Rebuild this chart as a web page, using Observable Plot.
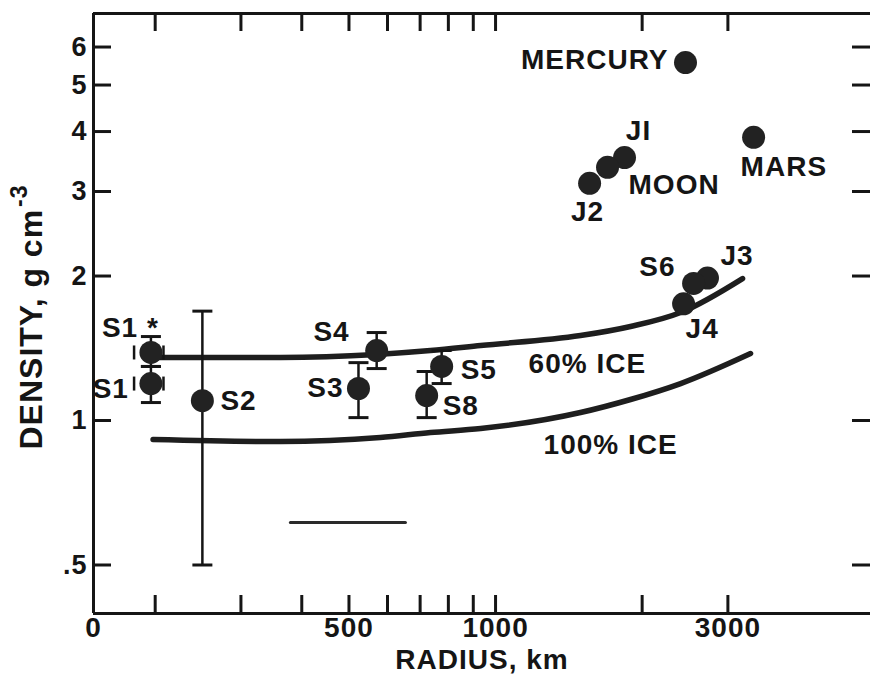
<!DOCTYPE html>
<html><head><meta charset="utf-8">
<script src="https://cdn.jsdelivr.net/npm/d3@7"></script>
<script src="https://cdn.jsdelivr.net/npm/@observablehq/plot@0.6"></script>
<style>html,body{margin:0;padding:0;background:#fff;overflow:hidden}</style>
</head><body><div id="chart"></div>
<script>
// ---- data ----
const bodyNames   = ["MERCURY","JI","MOON","J2","MARS","J3","S6","J4"];
const bodyRadius  = [2455, 1840, 1698, 1560, 3388, 2724, 2551, 2433];
const bodyDensity = [5.57, 3.53, 3.37, 3.12, 3.89, 1.98, 1.93, 1.75];

const satNames       = ["S1 *","S1","S2","S3","S4","S5","S8"];
const satRadius      = [196, 196, 250, 523, 570, 775, 722];
const satDensity     = [1.386, 1.194, 1.10, 1.166, 1.399, 1.296, 1.127];
const satDensityLow  = [1.296, 1.09, 0.50, 1.014, 1.283, 1.194, 1.014];
const satDensityHigh = [1.496, 1.296, 1.69, 1.32, 1.525, 1.399, 1.265];
const satRadiusLow   = [181, 181, null, null, null, null, null];
const satRadiusHigh  = [208, 208, null, null, null, null, null];

const ice60Radius   = [198, 362, 570, 735, 932, 1494, 1893, 2399, 3215];
const ice60Density  = [1.353, 1.353, 1.373, 1.399, 1.433, 1.503, 1.570, 1.679, 1.976];
const ice100Radius  = [198, 362, 580, 735, 932, 1494, 1893, 2399, 3339];
const ice100Density = [0.913, 0.904, 0.922, 0.944, 0.962, 1.039, 1.106, 1.194, 1.379];

const barRadius  = [379, 653];
const barDensity = [0.613, 0.613];

const annotText    = ["60% ICE", "100% ICE"];
const annotRadius  = [1169, 1255];
const annotDensity = [1.314, 0.887];

const xDomain = [149.4, 5888];
const yDomain = [0.3962, 7.047];
const xTicks = [200, 300, 400, 500, 600, 700, 800, 900, 1000, 2000, 3000];
const xLabelValues = [xDomain[0], 500, 1000, 3000];
const xLabelText = ["0", "500", "1000", "3000"];
const yTicks = [0.5, 1, 2, 3, 4, 5, 6];
const yTickLabels = [".5", "1", "2", "3", "4", "5", "6"];

// ---- tables ----
const bodies = bodyNames.map((name, i) => ({name, radius: bodyRadius[i], density: bodyDensity[i]}));
const sats = satNames.map((name, i) => ({name, radius: satRadius[i], density: satDensity[i],
  lo: satDensityLow[i], hi: satDensityHigh[i], rlo: satRadiusLow[i], rhi: satRadiusHigh[i]}));
const satsR = sats.filter(d => d.rlo != null);
const points = bodies.concat(sats);
const ice60 = ice60Radius.map((r, i) => ({radius: r, density: ice60Density[i]}));
const ice100 = ice100Radius.map((r, i) => ({radius: r, density: ice100Density[i]}));
const bar = barRadius.map((r, i) => ({radius: r, density: barDensity[i]}));
const annots = annotText.map((t, i) => ({text: t, radius: annotRadius[i], density: annotDensity[i]}));

const fontFamily = "'Liberation Sans', Arial, Helvetica, sans-serif";
const ink = "#151515";
const FS = 28;
const capH = {draw(ctx, size) { const r = Math.sqrt(size / Math.PI); ctx.moveTo(-r, 0); ctx.lineTo(r, 0); }};
const capV = {draw(ctx, size) { const r = Math.sqrt(size / Math.PI); ctx.moveTo(0, -r); ctx.lineTo(0, r); }};

const W = 870, H = 687, mT = 13, mL = 93, mR = 0, mB = 74;
const innerW = W - mL - mR, innerH = H - mT - mB;
const TL = 18;

function lab(name, dx, dy, anchor) {
  return Plot.text(points.filter(p => p.name === name), {
    x: "radius", y: "density", text: "name", dx, dy, textAnchor: anchor,
    fontSize: FS, fontWeight: "bold", fill: ink
  });
}

// measure title for superscript placement
const TFS = 32;
const mctx = document.createElement("canvas").getContext("2d");
mctx.font = `bold ${TFS}px 'Liberation Sans'`;
const titleW = mctx.measureText("DENSITY, g cm").width + 13 * 1;
const titleStartDy = 449 - (mT + innerH / 2);

const chart = Plot.plot({
  width: W, height: H,
  marginTop: mT, marginLeft: mL, marginRight: mR, marginBottom: mB,
  x: {type: "log", domain: xDomain, axis: null},
  y: {type: "log", domain: yDomain, axis: null},
  style: {fontFamily, background: "#fff", color: ink, overflow: "visible", letterSpacing: "1px"},
  marks: [
    // frame (right side runs off the picture)
    Plot.ruleY([yDomain[0]], {stroke: ink, strokeWidth: 3}),
    Plot.ruleY([yDomain[1]], {stroke: ink, strokeWidth: 3}),
    Plot.ruleX([xDomain[0]], {stroke: ink, strokeWidth: 3}),
    // inward ticks
    Plot.ruleX(xTicks, {x: d => d, insetTop: innerH - TL, stroke: ink, strokeWidth: 3}),
    Plot.ruleX(xTicks, {x: d => d, insetBottom: innerH - TL, stroke: ink, strokeWidth: 3}),
    Plot.ruleY(yTicks, {y: d => d, insetRight: innerW - TL, stroke: ink, strokeWidth: 3}),
    Plot.ruleY(yTicks, {y: d => d, insetLeft: innerW - TL, stroke: ink, strokeWidth: 3}),
    // tick labels
    Plot.text(xLabelValues, {x: d => d, frameAnchor: "bottom", dy: 23, text: (d, i) => xLabelText[i],
      fontSize: 28, fontWeight: "bold", fill: ink}),
    Plot.text(yTicks, {y: d => d, frameAnchor: "left", dx: -6, textAnchor: "end", text: (d, i) => yTickLabels[i],
      fontSize: 27, fontWeight: "bold", fill: ink}),
    // axis titles
    Plot.text(["RADIUS, km"], {frameAnchor: "bottom", dy: 55, fontSize: 28, fontWeight: "bold", fill: ink}),
    Plot.text(["DENSITY, g cm"], {frameAnchor: "left", dx: -62, dy: titleStartDy, rotate: -90,
      textAnchor: "start", fontSize: TFS, fontWeight: "bold", fill: ink}),
    Plot.text(["-3"], {frameAnchor: "left", dx: -74, dy: titleStartDy - titleW - 2, rotate: -90,
      textAnchor: "start", fontSize: 23, fontWeight: "bold", fill: ink}),
    // model curves
    Plot.line(ice60, {x: "radius", y: "density", curve: "monotone-x", stroke: "#1e1e1e", strokeWidth: 5.5, strokeLinecap: "round"}),
    Plot.line(ice100, {x: "radius", y: "density", curve: "monotone-x", stroke: "#1e1e1e", strokeWidth: 5.5, strokeLinecap: "round"}),
    Plot.line(bar, {x: "radius", y: "density", stroke: "#2a2a2a", strokeWidth: 3}),
    // error bars
    Plot.ruleX(sats, {x: "radius", y1: "lo", y2: "hi", stroke: ink, strokeWidth: 2.5}),
    Plot.dot(sats, {x: "radius", y: "lo", symbol: capH, r: 10, stroke: ink, strokeWidth: 3, fill: "none"}),
    Plot.dot(sats, {x: "radius", y: "hi", symbol: capH, r: 10, stroke: ink, strokeWidth: 3, fill: "none"}),
    Plot.dot(satsR, {x: "rlo", y: "density", symbol: capV, r: 7, stroke: ink, strokeWidth: 2.5, fill: "none"}),
    Plot.dot(satsR, {x: "rhi", y: "density", symbol: capV, r: 7, stroke: ink, strokeWidth: 2.5, fill: "none"}),
    // data points
    Plot.dot(points, {x: "radius", y: "density", r: 11.5, fill: "#222", stroke: "none"}),
    // labels
    lab("MERCURY", -17, -2, "end"),
    lab("JI", 14, -27, "middle"),
    lab("MOON", 21, 18, "start"),
    lab("J2", -2, 29, "middle"),
    lab("MARS", -13, 30, "start"),
    lab("J3", 13, -22, "start"),
    lab("S6", -18, -16, "end"),
    lab("J4", 2, 25, "start"),
    lab("S1 *", -49, -24, "start"),
    lab("S1", -22, 5, "end"),
    lab("S2", 18, 0, "start"),
    lab("S3", -15, 0, "end"),
    lab("S4", -27, -18, "end"),
    lab("S5", 19, 4, "start"),
    lab("S8", 16, 10, "start"),
    Plot.text(annots, {x: "radius", y: "density", text: "text", textAnchor: "start",
      fontSize: FS, fontWeight: "bold", fill: ink})
  ]
});
document.getElementById("chart").appendChild(chart);
</script>
</body></html>
